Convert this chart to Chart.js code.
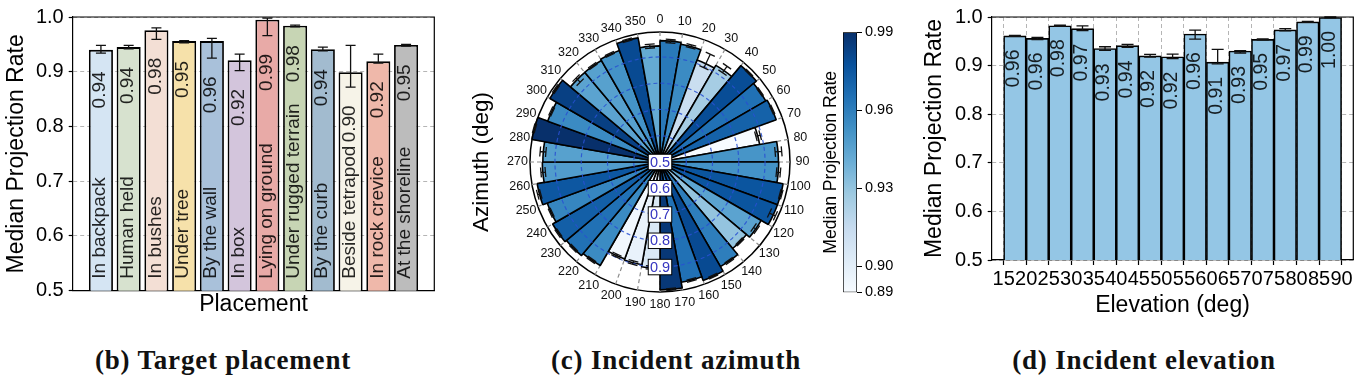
<!DOCTYPE html>
<html><head><meta charset="utf-8">
<script src="https://cdn.jsdelivr.net/npm/chart.js@4.4.1/dist/chart.umd.min.js"></script>
<style>
html,body{margin:0;padding:0;background:#fff;}
body{width:1360px;height:382px;position:relative;overflow:hidden;font-family:"Liberation Sans",Arial,sans-serif;}
canvas{position:absolute;}
.cap{position:absolute;top:347px;line-height:27px;font-family:"Liberation Serif","Times New Roman",serif;font-weight:bold;font-size:27px;letter-spacing:0.8px;white-space:nowrap;transform:translateX(-50%);color:#111;}
</style></head><body>
<canvas id="cvB" width="440" height="320" style="left:0;top:0;width:440px;height:320px"></canvas>
<canvas id="cvC" width="440" height="320" style="left:440px;top:0;width:440px;height:320px"></canvas>
<canvas id="cvBar" width="100" height="320" style="left:800px;top:0;width:100px;height:320px"></canvas>
<canvas id="cvD" width="480" height="320" style="left:880px;top:0;width:480px;height:320px"></canvas>
<div class="cap" style="left:223px">(b) Target placement</div>
<div class="cap" style="left:676px">(c) Incident azimuth</div>
<div class="cap" style="left:1144px">(d) Incident elevation</div>
<script>
// ---------------- DATA ----------------
const placementLabels = ['In backpack','Human held','In bushes','Under tree','By the wall','In box','Lying on ground','Under rugged terrain','By the curb','Beside tetrapod','In rock crevice','At the shoreline'];
const placementRate = [0.940, 0.945, 0.976, 0.956, 0.956, 0.921, 0.995, 0.984, 0.941, 0.899, 0.919, 0.949];
const placementLow  = [0.934, 0.942, 0.959, 0.953, 0.925, 0.902, 0.966, 0.982, 0.938, 0.872, 0.916, 0.947];
const placementHigh = [0.948, 0.948, 0.980, 0.957, 0.961, 0.932, 0.998, 0.985, 0.945, 0.948, 0.932, 0.950];
const placementText = ['0.94','0.94','0.98','0.95','0.96','0.92','0.99','0.98','0.94','0.90','0.92','0.95'];
const placementColors = ['#d5e5f3','#d7e2cf','#f3dfd5','#f6e1aa','#a9c1da','#d3c5dc','#e8aaa7','#c7d5b4','#a2bbcf','#f6f3e8','#efb8aa','#bcbcbc'];

const azimuthLabels = ['0','10','20','30','40','50','60','70','80','90','100','110','120','130','140','150','160','170','180','190','200','210','220','230','240','250','260','270','280','290','300','310','320','330','340','350'];
const azimuthRate = [0.962, 0.955, 0.913, 0.925, 0.979, 0.965, 0.971, 0.885, 0.951, 0.952, 0.976, 0.976, 0.945, 0.930, 0.960, 0.980, 0.965, 0.987, 0.905, 0.897, 0.893, 0.955, 0.965, 0.972, 0.957, 0.975, 0.948, 0.946, 0.995, 0.955, 0.984, 0.945, 0.946, 0.952, 0.980, 0.942];
const azimuthLow  = [0.955, 0.950, 0.896, 0.915, 0.976, 0.962, 0.968, 0.878, 0.940, 0.945, 0.972, 0.960, 0.935, 0.926, 0.956, 0.976, 0.961, 0.983, 0.898, 0.890, 0.887, 0.951, 0.961, 0.968, 0.953, 0.970, 0.938, 0.936, 0.991, 0.951, 0.980, 0.930, 0.942, 0.948, 0.976, 0.935];
const azimuthHigh = [0.968, 0.962, 0.953, 0.945, 0.982, 0.968, 0.974, 0.895, 0.965, 0.960, 0.980, 0.985, 0.950, 0.934, 0.964, 0.983, 0.969, 0.990, 0.910, 0.903, 0.898, 0.959, 0.969, 0.976, 0.961, 0.982, 0.955, 0.958, 0.998, 0.959, 0.988, 0.952, 0.950, 0.956, 0.984, 0.950];
const azimuthRingTicks = [0.5, 0.6, 0.7, 0.8, 0.9];
const azimuthMax = 0.995;
const colorbarTicks = [0.89, 0.90, 0.93, 0.96, 0.99];
const colorbarMin = 0.89, colorbarMax = 0.99;

const elevationTicks = [15,20,25,30,35,40,45,50,55,60,65,70,75,80,85,90];
const elevationCenters = [17.5,22.5,27.5,32.5,37.5,42.5,47.5,52.5,57.5,62.5,67.5,72.5,77.5,82.5,87.5];
const elevationRate = [0.961, 0.956, 0.982, 0.976, 0.935, 0.941, 0.920, 0.918, 0.965, 0.907, 0.930, 0.954, 0.9735, 0.990, 0.999];
const elevationLow  = [0.960, 0.9537, 0.981, 0.972, 0.9312, 0.9373, 0.9177, 0.9143, 0.9545, 0.9035, 0.9259, 0.953, 0.9714, 0.989, 0.998];
const elevationHigh = [0.962, 0.9578, 0.983, 0.9816, 0.9388, 0.9435, 0.923, 0.9238, 0.9728, 0.9333, 0.9306, 0.955, 0.976, 0.991, 1.000];
const elevationText = ['0.96','0.96','0.98','0.97','0.93','0.94','0.92','0.92','0.96','0.91','0.93','0.95','0.97','0.99','1.00'];

// ---------------- HELPERS ----------------
const FONT = '"Liberation Sans", Arial, sans-serif';
Chart.defaults.font.family = FONT;
Chart.defaults.color = '#000';
const BLUES = ['#f7fbff','#deebf7','#c6dbef','#9ecae1','#6baed6','#4292c6','#2171b5','#08519c','#08306b'];
function hex2rgb(h){return [parseInt(h.substr(1,2),16),parseInt(h.substr(3,2),16),parseInt(h.substr(5,2),16)];}
function blues(v){
  let t=(v-colorbarMin)/(colorbarMax-colorbarMin); t=Math.max(0,Math.min(1,t));
  const s=t*8, i=Math.min(7,Math.floor(s)), f=s-i;
  const a=hex2rgb(BLUES[i]), b=hex2rgb(BLUES[i+1]);
  return 'rgb('+a.map((c,k)=>Math.round(c+(b[k]-c)*f)).join(',')+')';
}
const spines = {
  id:'spines',
  afterDraw(chart){
    const {ctx, chartArea:ca} = chart;
    ctx.save(); ctx.strokeStyle='#000'; ctx.lineWidth=1.2;
    ctx.beginPath(); ctx.moveTo(ca.left, ca.top); ctx.lineTo(ca.right, ca.top); ctx.lineTo(ca.right, ca.bottom); ctx.stroke();
    ctx.restore();
  }
};
function drawErr(ctx, x, y1, y2, half){
  ctx.beginPath();
  ctx.moveTo(x, y1); ctx.lineTo(x, y2);
  ctx.moveTo(x-half, y1); ctx.lineTo(x+half, y1);
  ctx.moveTo(x-half, y2); ctx.lineTo(x+half, y2);
  ctx.stroke();
}

// ---------------- PANEL (b) ----------------
const placementDeco = {
  id:'placementDeco',
  afterDatasetsDraw(chart){
    const ctx=chart.ctx, ys=chart.scales.y, meta=chart.getDatasetMeta(0), ca=chart.chartArea;
    ctx.save();
    ctx.strokeStyle='#111'; ctx.lineWidth=1.3;
    meta.data.forEach((el,i)=>{
      drawErr(ctx, el.x, ys.getPixelForValue(placementHigh[i]), ys.getPixelForValue(placementLow[i]), 5);
    });
    ctx.fillStyle='rgba(0,0,0,0.85)';
    ctx.font='19px '+FONT; ctx.textBaseline='middle';
    meta.data.forEach((el,i)=>{
      ctx.save(); ctx.translate(el.x-1, ca.bottom-12); ctx.rotate(-Math.PI/2);
      ctx.textAlign='left'; ctx.fillText(placementLabels[i],0,0); ctx.restore();
      ctx.save(); ctx.translate(el.x-1, ys.getPixelForValue(placementLow[i])+18.3); ctx.rotate(-Math.PI/2);
      ctx.textAlign='right'; ctx.fillText(placementText[i],0,0); ctx.restore();
    });
    ctx.restore();
  }
};
new Chart(document.getElementById('cvB'), {
  type:'bar',
  data:{datasets:[{data:placementRate.map((v,i)=>({x:i,y:v})), backgroundColor:placementColors, borderColor:'#000', borderWidth:1.8, borderSkipped:false, barPercentage:0.867, categoryPercentage:1}]},
  options:{
    responsive:false, animation:false, devicePixelRatio:1,
    layout:{padding:{top:15.7,right:5.7,left:0,bottom:0}},
    plugins:{legend:{display:false},tooltip:{enabled:false}},
    scales:{
      x:{type:'linear', min:-1.0175, max:12.0175, offset:false,
         afterBuildTicks:s=>{s.ticks=placementLabels.map((_,i)=>({value:i}));},
         ticks:{display:false}, grid:{display:false,offset:false}, border:{display:true,color:'#000',width:1.2},
         title:{display:true,text:'Placement',font:{size:23},color:'#000',padding:{top:0,bottom:1.5}},
         afterFit:s=>{s.height=29.3;}},
      y:{min:0.5,max:1.0,
         ticks:{stepSize:0.1,callback:v=>v.toFixed(1),font:{size:20},color:'#000',padding:5},
         grid:{color:'#b5b5b5',lineWidth:1,tickColor:'#000',tickLength:4,tickWidth:1.2},
         border:{dash:[4,3],color:'#000',width:1.2},
         title:{display:true,text:'Median Projection Rate',font:{size:23},color:'#000',padding:{top:2.5,bottom:0}},
         afterFit:s=>{s.width=72.7;}}
    }
  },
  plugins:[placementDeco, spines]
});

// ---------------- PANEL (c) ----------------
const polarDeco = {
  id:'polarDeco',
  afterDatasetsDraw(chart){
    const ctx=chart.ctx, sc=chart.scales.r, cx=sc.xCenter, cy=sc.yCenter;
    const R = sc.getDistanceFromCenterForValue(azimuthMax);
    ctx.save();
    ctx.strokeStyle='rgba(40,80,210,0.85)'; ctx.lineWidth=1.2; ctx.setLineDash([4,3]);
    azimuthRingTicks.forEach(v=>{ if(v<=0.5) return; const r=sc.getDistanceFromCenterForValue(v);
      ctx.beginPath(); ctx.arc(cx,cy,r,0,Math.PI*2); ctx.stroke(); });
    ctx.setLineDash([]);
    ctx.strokeStyle='#111'; ctx.lineWidth=1.3;
    azimuthRate.forEach((v,i)=>{
      const phi=(i*10+5)*Math.PI/180, dx=Math.sin(phi), dy=-Math.cos(phi), px=-dy, py=dx;
      const r1=sc.getDistanceFromCenterForValue(azimuthLow[i]), r2=sc.getDistanceFromCenterForValue(azimuthHigh[i]);
      ctx.beginPath();
      ctx.moveTo(cx+dx*r1, cy+dy*r1); ctx.lineTo(cx+dx*r2, cy+dy*r2);
      [r1,r2].forEach(r=>{ ctx.moveTo(cx+dx*r-px*5, cy+dy*r-py*5); ctx.lineTo(cx+dx*r+px*5, cy+dy*r+py*5); });
      ctx.stroke();
    });
    ctx.fillStyle='#111'; ctx.font='12.5px '+FONT; ctx.textAlign='center'; ctx.textBaseline='middle';
    azimuthLabels.forEach((lab,i)=>{
      const a=i*10*Math.PI/180, d=R+12.5;
      ctx.fillText(lab, cx+Math.sin(a)*d, cy-Math.cos(a)*d);
    });
    ctx.font='14.5px '+FONT;
    azimuthRingTicks.forEach(v=>{
      const y=cy+sc.getDistanceFromCenterForValue(v), w=23.5, h=15.5;
      ctx.fillStyle='#fff'; ctx.fillRect(cx-w/2, y-h/2, w, h);
      ctx.strokeStyle='#000'; ctx.lineWidth=1; ctx.strokeRect(cx-w/2, y-h/2, w, h);
      ctx.fillStyle='#3535c0'; ctx.fillText(v.toFixed(1), cx, y+0.5);
    });
    ctx.fillStyle='#000'; ctx.font='22.5px '+FONT;
    ctx.translate(41.7, cy); ctx.rotate(-Math.PI/2); ctx.fillText('Azimuth (deg)',0,0);
    ctx.restore();
  }
};
new Chart(document.getElementById('cvC'), {
  type:'polarArea',
  data:{labels:azimuthLabels, datasets:[{data:azimuthRate, backgroundColor:azimuthRate.map(blues), borderColor:'#000', borderWidth:1.6}]},
  options:{
    responsive:false, animation:false, devicePixelRatio:1,
    layout:{padding:{left:90,right:90,top:32,bottom:28}},
    plugins:{legend:{display:false},tooltip:{enabled:false}},
    scales:{r:{min:0.5,max:azimuthMax,beginAtZero:false,startAngle:0,
      afterBuildTicks:s=>{s.ticks=azimuthRingTicks.concat([azimuthMax]).map(v=>({value:v}));},
      ticks:{display:false},
      grid:{circular:true,lineWidth:1.5,color:c=>(c.tick && c.tick.value>=azimuthMax-1e-9)?'#000':'rgba(0,0,0,0)'},
      border:{dash:[]},
      angleLines:{display:true,color:'#8c8c8c',lineWidth:1.2,borderDash:[4,3]},
      pointLabels:{display:false}}}
  },
  plugins:[polarDeco]
});

new Chart(document.getElementById('cvBar'), {
  type:'bar',
  data:{labels:['cb'], datasets:[{data:[[colorbarMin,colorbarMax]],
    backgroundColor:c=>{const ca=c.chart.chartArea; if(!ca) return '#fff'; const g=c.chart.ctx.createLinearGradient(0,ca.bottom,0,ca.top); BLUES.forEach((col,k)=>g.addColorStop(k/8,col)); return g;},
    borderColor:'#000', borderWidth:1, borderSkipped:false, barPercentage:1, categoryPercentage:1}]},
  options:{
    responsive:false, animation:false, devicePixelRatio:1,
    layout:{padding:{top:32.3,bottom:27.7,left:0,right:0}},
    plugins:{legend:{display:false},tooltip:{enabled:false}},
    scales:{
      x:{display:false},
      y:{position:'right',min:colorbarMin,max:colorbarMax,
         afterBuildTicks:s=>{s.ticks=colorbarTicks.map(v=>({value:v}));},
         ticks:{callback:v=>v.toFixed(2),font:{size:14.5},color:'#000',padding:3},
         grid:{drawOnChartArea:false,tickLength:5,tickColor:'#000',tickWidth:1},
         border:{display:false}, afterFit:s=>{s.width=43;}},
      yl:{position:'left',ticks:{display:false},grid:{display:false},border:{display:false},
         title:{display:true,text:'Median Projection Rate',font:{size:17.6},color:'#000',padding:{top:21,bottom:0}},
         afterFit:s=>{s.width=43;}}
    }
  }
});

// ---------------- PANEL (d) ----------------
const elevationDeco = {
  id:'elevationDeco',
  afterDatasetsDraw(chart){
    const ctx=chart.ctx, ys=chart.scales.y, meta=chart.getDatasetMeta(0);
    ctx.save();
    ctx.strokeStyle='#111'; ctx.lineWidth=1.3;
    meta.data.forEach((el,i)=>{
      drawErr(ctx, el.x, ys.getPixelForValue(elevationHigh[i]), ys.getPixelForValue(elevationLow[i]), 6);
    });
    ctx.fillStyle='rgba(0,0,0,0.85)'; ctx.font='19.5px '+FONT; ctx.textBaseline='middle'; ctx.textAlign='right';
    meta.data.forEach((el,i)=>{
      ctx.save(); ctx.translate(el.x-1, ys.getPixelForValue(elevationLow[i])+13); ctx.rotate(-Math.PI/2);
      ctx.fillText(elevationText[i],0,0); ctx.restore();
    });
    ctx.restore();
  }
};
new Chart(document.getElementById('cvD'), {
  type:'bar',
  data:{datasets:[{data:elevationRate.map((v,i)=>({x:elevationCenters[i],y:v})), backgroundColor:'#94c6e5', borderColor:'#000', borderWidth:1.6, borderSkipped:false, barPercentage:1, categoryPercentage:1}]},
  options:{
    responsive:false, animation:false, devicePixelRatio:1,
    layout:{padding:{top:15,right:6.7,left:0,bottom:0}},
    plugins:{legend:{display:false},tooltip:{enabled:false}},
    scales:{
      x:{type:'linear',min:12.35,max:92.6,offset:false,
         afterBuildTicks:s=>{s.ticks=elevationTicks.map(v=>({value:v}));},
         ticks:{autoSkip:false,maxRotation:0,minRotation:0,font:{size:20},color:'#000',padding:2,callback:v=>String(v)},
         grid:{color:'#b5b5b5',lineWidth:1,tickColor:'#000',tickLength:5,tickWidth:1.2,offset:false},
         border:{dash:[4,3],color:'#000',width:1.2},
         title:{display:true,text:'Elevation (deg)',font:{size:23},color:'#000',padding:{top:0,bottom:1}},
         afterFit:s=>{s.height=60;}},
      y:{min:0.5,max:1.0,
         ticks:{stepSize:0.1,callback:v=>v.toFixed(1),font:{size:20},color:'#000',padding:5},
         grid:{color:'#b5b5b5',lineWidth:1,tickColor:'#000',tickLength:4,tickWidth:1.2},
         border:{dash:[4,3],color:'#000',width:1.2},
         title:{display:true,text:'Median Projection Rate',font:{size:23},color:'#000',padding:{top:41,bottom:0}},
         afterFit:s=>{s.width=111.7;}}
    }
  },
  plugins:[elevationDeco, spines]
});
</script>
</body></html>
